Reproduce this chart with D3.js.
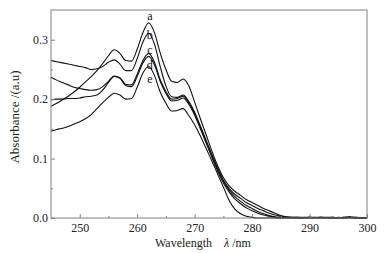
<!DOCTYPE html>
<html>
<head>
<meta charset="utf-8">
<script src="https://cdn.jsdelivr.net/npm/d3@7"></script>
<style>
  body { margin: 0; background: #fff; }
  svg { display: block; }
  svg text { font-family: "Liberation Serif", "Times New Roman", Times, serif; }
</style>
</head>
<body>
<div id="chart"></div>
<script>
// wavelength grid (nm)
const wavelengths = [245, 246, 247, 248, 249, 250, 251, 252, 253, 254, 255, 256, 257, 258, 259, 260,
  261, 262, 263, 264, 265, 266, 267, 268, 269, 270, 271, 272, 273, 274, 275, 276, 277, 278, 279, 280,
  281, 282, 283, 284, 285, 286, 288, 290, 292, 294, 296, 297, 298, 300];

// absorbance series, one per sample
const seriesA = [0.188, 0.193, 0.199, 0.205, 0.212, 0.220, 0.229, 0.238, 0.248, 0.260, 0.273, 0.283, 0.277, 0.265, 0.264, 0.284,
  0.312, 0.328, 0.312, 0.278, 0.250, 0.230, 0.228, 0.234, 0.222, 0.195, 0.167, 0.140, 0.113, 0.088, 0.068, 0.054, 0.045, 0.038, 0.031, 0.026,
  0.021, 0.016, 0.012, 0.008, 0.004, 0.002, 0.001, 0.001, 0.001, 0.000, 0.001, 0.002, 0.001, 0.000];
const seriesB = [0.265, 0.263, 0.261, 0.259, 0.257, 0.255, 0.253, 0.250, 0.251, 0.255, 0.262, 0.266, 0.259, 0.248, 0.248, 0.268,
  0.296, 0.311, 0.293, 0.255, 0.222, 0.204, 0.203, 0.207, 0.196, 0.178, 0.155, 0.131, 0.107, 0.084, 0.064, 0.050, 0.040, 0.033, 0.026, 0.021,
  0.016, 0.012, 0.008, 0.005, 0.003, 0.001, 0.001, 0.000, 0.001, 0.001, 0.000, 0.001, 0.000, 0.000];
const seriesC = [0.237, 0.232, 0.228, 0.224, 0.220, 0.218, 0.216, 0.215, 0.216, 0.221, 0.230, 0.239, 0.236, 0.225, 0.224, 0.242,
  0.265, 0.277, 0.262, 0.233, 0.213, 0.200, 0.201, 0.205, 0.194, 0.176, 0.153, 0.129, 0.105, 0.082, 0.062, 0.047, 0.036, 0.028, 0.021, 0.016,
  0.011, 0.007, 0.004, 0.002, 0.001, 0.001, 0.000, 0.001, 0.000, 0.001, 0.000, 0.000, 0.001, 0.000];
const seriesD = [0.199, 0.200, 0.200, 0.201, 0.201, 0.202, 0.204, 0.205, 0.207, 0.215, 0.228, 0.238, 0.235, 0.223, 0.221, 0.238,
  0.261, 0.272, 0.258, 0.230, 0.210, 0.197, 0.198, 0.202, 0.191, 0.173, 0.150, 0.126, 0.102, 0.079, 0.059, 0.044, 0.032, 0.024, 0.017, 0.012,
  0.008, 0.005, 0.003, 0.001, 0.000, 0.000, 0.000, 0.000, 0.001, 0.000, 0.001, 0.001, 0.000, 0.000];
const seriesE = [0.146, 0.149, 0.151, 0.154, 0.158, 0.162, 0.167, 0.174, 0.184, 0.194, 0.203, 0.210, 0.207, 0.200, 0.201, 0.220,
  0.244, 0.255, 0.240, 0.212, 0.193, 0.180, 0.181, 0.184, 0.172, 0.157, 0.138, 0.117, 0.096, 0.074, 0.052, 0.030, 0.015, 0.007, 0.003, 0.001,
  0.000, 0.000, 0.000, 0.000, 0.000, 0.000, 0.000, 0.001, 0.000, 0.000, 0.000, 0.001, 0.000, 0.000];

const seriesNames = ["a", "b", "c", "d", "e"];
const allSeries = [seriesA, seriesB, seriesC, seriesD, seriesE];
// where each letter sits above the main peak (absorbance of its baseline)
const labelLevels = [0.333, 0.301, 0.276, 0.251, 0.227];

const xTicks = [250, 260, 270, 280, 290, 300];
const xMinorTicks = [255, 265, 275, 285, 295];
const yTicks = [0.0, 0.1, 0.2, 0.3];
const yMinorTicks = [0.05, 0.15, 0.25];

const width = 385, height = 253;
const margin = {top: 10, right: 18, bottom: 35, left: 51};
const frameColor = "#808080";

const x = d3.scaleLinear().domain([245, 300]).range([margin.left, width - margin.right]);
const y = d3.scaleLinear().domain([0, 0.35]).range([height - margin.bottom, margin.top]);

const svg = d3.select("#chart").append("svg")
    .attr("width", width)
    .attr("height", height);

// curves
const line = d3.line()
    .x((d, i) => x(wavelengths[i]))
    .y(d => y(d))
    .curve(d3.curveMonotoneX);

svg.append("g")
  .selectAll("path")
  .data(allSeries)
  .join("path")
    .attr("fill", "none")
    .attr("stroke", "#111")
    .attr("stroke-width", 1.1)
    .attr("d", line);

// axes (ticks pointing inward)
const styleAxis = g => {
  g.select(".domain").remove();
  g.selectAll(".tick line").attr("stroke", frameColor);
  g.selectAll(".tick text").attr("fill", "#222").attr("font-size", 12);
};

svg.append("g")
    .attr("transform", `translate(0,${height - margin.bottom})`)
    .call(d3.axisBottom(x).tickValues(xTicks).tickSize(-4).tickPadding(5).tickFormat(d3.format("d")))
    .call(styleAxis);
svg.append("g")
    .attr("transform", `translate(0,${height - margin.bottom})`)
    .call(d3.axisBottom(x).tickValues(xMinorTicks).tickSize(-2).tickFormat(""))
    .call(styleAxis);

svg.append("g")
    .attr("transform", `translate(${margin.left},0)`)
    .call(d3.axisLeft(y).tickValues(yTicks).tickSize(-4).tickPadding(3).tickFormat(d3.format(".1f")))
    .call(styleAxis);
svg.append("g")
    .attr("transform", `translate(${margin.left},0)`)
    .call(d3.axisLeft(y).tickValues(yMinorTicks).tickSize(-2).tickFormat(""))
    .call(styleAxis);

// frame
svg.append("rect")
    .attr("x", margin.left)
    .attr("y", margin.top)
    .attr("width", width - margin.left - margin.right)
    .attr("height", height - margin.top - margin.bottom)
    .attr("fill", "none")
    .attr("stroke", frameColor)
    .attr("stroke-width", 1);

// curve labels at the main peak
svg.append("g")
  .selectAll("text")
  .data(seriesNames)
  .join("text")
    .attr("x", x(262.2))
    .attr("y", (d, i) => y(labelLevels[i]))
    .attr("text-anchor", "middle")
    .attr("font-size", 12)
    .attr("fill", "#111")
    .text(d => d);

// axis titles
svg.append("text")
    .attr("transform", `translate(19,${(margin.top + height - margin.bottom) / 2 + 3}) rotate(-90)`)
    .attr("text-anchor", "middle")
    .attr("font-size", 13)
    .attr("fill", "#222")
    .text("Absorbance /(a.u)");

const xTitle = svg.append("text")
    .attr("x", 155)
    .attr("y", 247)
    .attr("font-size", 12)
    .attr("fill", "#222");
xTitle.append("tspan").text("Wavelength");
xTitle.append("tspan").attr("dx", 12).attr("font-style", "italic").text("λ");
xTitle.append("tspan").text(" /nm");
</script>
</body>
</html>
